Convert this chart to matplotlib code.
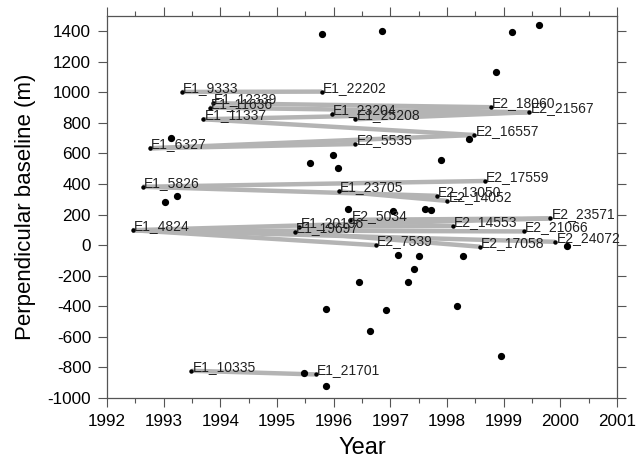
import matplotlib
matplotlib.use('Agg')
import matplotlib.pyplot as plt
from matplotlib.ticker import MultipleLocator

plt.rcParams['font.family'] = ['Liberation Sans', 'DejaVu Sans']
plt.rcParams['axes.unicode_minus'] = False

# labelled acquisitions: name, year, perpendicular baseline (m)
names = ['E1_9333', 'E1_22202', 'E1_12339', 'E1_11636', 'E1_11337', 'E1_6327',
         'E1_23204', 'E1_25208', 'E2_5535', 'E2_18060', 'E2_21567', 'E2_16557',
         'E1_5826', 'E1_4824', 'E1_23705', 'E1_20196', 'E1_19697', 'E2_5034',
         'E2_7539', 'E2_17559', 'E2_13050', 'E2_14052', 'E2_14553', 'E2_23571',
         'E2_21066', 'E2_17058', 'E2_24072', 'E1_10335', 'E1_21701']
years = [1993.32, 1995.79, 1993.87, 1993.81, 1993.70, 1992.75,
         1995.97, 1996.38, 1996.38, 1998.77, 1999.45, 1998.48,
         1992.63, 1992.45, 1996.09, 1995.39, 1995.31, 1996.29,
         1996.74, 1998.67, 1997.82, 1998.00, 1998.10, 1999.82,
         1999.35, 1998.58, 1999.91, 1993.49, 1995.68]
bperp = [1003, 1005, 929, 900, 824, 634,
         859, 824, 662, 903, 870, 721,
         382, 98, 352, 120, 87, 166,
         0, 420, 323, 290, 125, 175,
         90, -10, 22, -822, -846]

# interferometric pairs
pairs = [('E1_9333', 'E1_22202'), ('E1_12339', 'E2_18060'), ('E1_11636', 'E2_21567'),
         ('E1_11337', 'E2_21567'), ('E1_11337', 'E2_16557'), ('E1_23204', 'E2_18060'),
         ('E1_25208', 'E2_21567'), ('E1_6327', 'E2_5535'), ('E1_6327', 'E2_16557'),
         ('E1_5826', 'E2_17559'), ('E1_5826', 'E2_13050'), ('E1_23705', 'E2_14052'),
         ('E1_4824', 'E2_23571'), ('E1_4824', 'E2_21066'), ('E1_4824', 'E2_24072'),
         ('E1_4824', 'E2_7539'), ('E1_20196', 'E2_14553'), ('E1_19697', 'E2_17058'),
         ('E2_5034', 'E2_23571'), ('E1_10335', 'E1_21701')]

# other acquisitions (not used)
other_years = [1995.79, 1996.85, 1999.15, 1999.63, 1998.86, 1998.38, 1997.89,
               1993.13, 1995.98, 1995.59, 1996.07, 1993.03, 1993.23, 1996.26,
               1997.04, 1997.61, 1997.71, 1997.13, 1997.51, 1997.42, 1998.29,
               2000.11, 1997.32, 1996.45, 1995.87, 1996.93, 1998.17, 1996.64,
               1998.95, 1995.48, 1995.87]
other_bperp = [1384, 1399, 1397, 1441, 1132, 693, 557,
               699, 590, 540, 507, 284, 323, 240,
               225, 240, 230, -66, -68, -153, -72,
               -5, -240, -240, -416, -426, -400, -561,
               -727, -835, -920]

pos = {n: (x, y) for n, x, y in zip(names, years, bperp)}

fig = plt.figure(figsize=(6.37, 4.66), dpi=100)
ax = fig.add_axes([0.168, 0.146, 0.8006, 0.8197])

for a, b in pairs:
    ax.plot([pos[a][0], pos[b][0]], [pos[a][1], pos[b][1]],
            color='#b4b4b4', lw=3.2, solid_capstyle='butt', zorder=1)

ax.plot(years, bperp, 'o', color='black', ms=2.2, zorder=3)
ax.plot(other_years, other_bperp, 'o', color='black', ms=4.2, zorder=3)

for n, x, y in zip(names, years, bperp):
    ax.annotate(n, (x, y), xytext=(1, 0), textcoords='offset points',
                ha='left', va='baseline', fontsize=10, color='#222222', zorder=4)

ax.set_xlim(1992, 2001)
ax.set_ylim(-1000, 1500)
ax.xaxis.set_minor_locator(MultipleLocator(0.5))
ax.set_yticks(range(-1000, 1401, 200))
ax.set_xticks(range(1992, 2002))

ax.tick_params(which='both', direction='out', top=True, right=True,
               labeltop=False, labelright=False, color='#555555')
ax.tick_params(which='major', length=6.5, width=0.8, labelsize=12.3, pad=5)
ax.tick_params(which='minor', length=3.5, width=0.8)
for s in ax.spines.values():
    s.set_color('#555555')
    s.set_linewidth(0.9)

ax.set_xlabel('Year', fontsize=17, labelpad=6)
ax.set_ylabel('Perpendicular baseline (m)', fontsize=16, labelpad=8)

fig.savefig('out.png', dpi=100)
